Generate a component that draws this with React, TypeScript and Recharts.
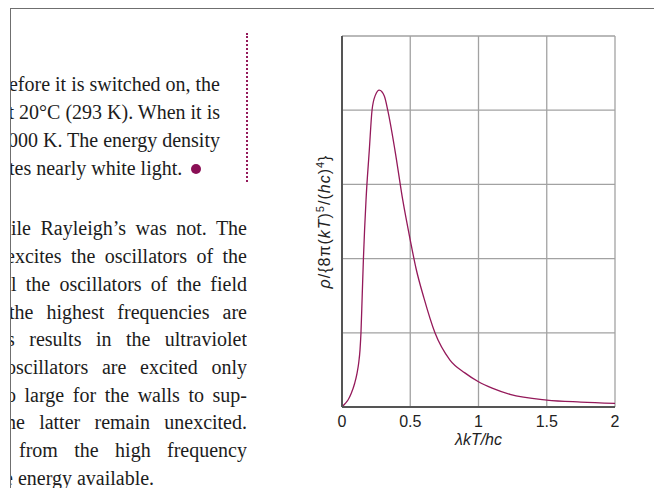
import React from "react"
import { CartesianGrid, Line, LineChart, XAxis, YAxis } from "recharts"

// λkT/hc values
const lambdaKT = [
  0, 0.02, 0.044, 0.068, 0.093, 0.11, 0.122, 0.132, 0.139, 0.148, 0.157, 0.176, 0.2, 0.22, 0.244, 0.273,
  0.31, 0.335, 0.388, 0.445, 0.5, 0.542, 0.6, 0.681, 0.791, 0.9, 1.0, 1.1, 1.231, 1.5, 1.75, 2.0,
]
// energy density, in grid units (no labels on the y axis)
const density = [
  0, 0.04, 0.094, 0.185, 0.32, 0.454, 0.59, 0.77, 1.0, 1.5, 2.0, 2.79, 3.46, 4.0, 4.2, 4.27, 4.19, 4.0,
  3.46, 2.79, 2.25, 1.87, 1.47, 1.0, 0.633, 0.46, 0.341, 0.255, 0.171, 0.094, 0.067, 0.05,
]
const xTicks = [0, 0.5, 1, 1.5, 2]
const yTicks = [0, 1, 2, 3, 4, 5]

// page text beside the figure (cut off at the frame on the left)
const noteLines = ["efore it is switched on, the", "t 20°C (293 K). When it is", "000 K. The energy density"]
const noteLast = "tes nearly white light."
const bodyLines = [
  "ile Rayleigh’s was not. The",
  "excites the oscillators of the",
  "l the oscillators of the field",
  "the highest frequencies are",
  "s results in the ultraviolet",
  "oscillators are excited only",
  "o large for the walls to sup-",
  "he latter remain unexcited.",
  "from the high frequency",
]
const bodyShift = [0, 5, 0, 2, 4, 5, 5, 5, -8]
const bodyLast = "e energy available."

const data = lambdaKT.map((x, i) => ({ x, rho: density[i] }))

const PLUM = "#94195a"
const LINE_H = 27.7

const textStyle: React.CSSProperties = {
  position: "absolute",
  fontFamily: "'Liberation Serif', serif",
  fontSize: 20,
  lineHeight: `${LINE_H}px`,
  color: "#1c1c1c",
  textAlign: "justify",
  textAlignLast: "justify",
}

function YLabel(props: any) {
  const vb = props.viewBox
  const x = vb.x + vb.width - 12
  const y = vb.y + vb.height / 2
  return (
    <text
      x={x}
      y={y}
      transform={`rotate(-90 ${x} ${y})`}
      textAnchor="middle"
      fontFamily="'Liberation Sans', Arial, sans-serif"
      fontSize={16}
      letterSpacing={1}
      fill="#222"
    >
      <tspan fontStyle="italic">ρ</tspan>/{"{"}8π(<tspan fontStyle="italic">kT</tspan>)
      <tspan fontSize={11} dy={-6}>5</tspan>
      <tspan dy={6}>/(</tspan>
      <tspan fontStyle="italic">hc</tspan>)
      <tspan fontSize={11} dy={-6}>4</tspan>
      <tspan dy={6}>{"}"}</tspan>
    </text>
  )
}

function XLabel(props: any) {
  const vb = props.viewBox
  return (
    <text
      x={vb.x + vb.width / 2}
      y={vb.y + 38}
      textAnchor="middle"
      fontFamily="'Liberation Sans', Arial, sans-serif"
      fontSize={16}
      fontStyle="italic"
      fill="#222"
    >
      λkT/hc
    </text>
  )
}

export default function App() {
  return (
    <div style={{ position: "absolute", left: 0, top: 0, width: 654, height: 488, background: "#fff", overflow: "hidden" }}>
      {/* page frame */}
      <div style={{ position: "absolute", left: 10, top: 8, width: 650, height: 490, borderLeft: "1.5px solid #6f6f6f", borderTop: "1.5px solid #6f6f6f" }} />

      <div style={{ position: "absolute", left: 11, top: 0, width: 236, height: 488, overflow: "hidden" }}>
        {noteLines.map((t, i) => (
          <div key={t} style={{ ...textStyle, top: 71.4 + i * LINE_H, right: 27, whiteSpace: "nowrap", textAlign: "right", textAlignLast: "right" }}>
            {t}
          </div>
        ))}
        <div style={{ ...textStyle, top: 71.4 + 3 * LINE_H, left: -2, textAlign: "left", textAlignLast: "left", whiteSpace: "nowrap" }}>
          {noteLast}
        </div>
        {bodyLines.map((t, i) => (
          <div key={t} style={{ ...textStyle, top: 215.4 + i * LINE_H, left: -bodyShift[i], width: 236 + bodyShift[i] }}>
            {t}
          </div>
        ))}
        <div style={{ ...textStyle, top: 215.4 + 9 * LINE_H, left: -7, textAlign: "left", textAlignLast: "left", whiteSpace: "nowrap" }}>
          {bodyLast}
        </div>
      </div>

      {/* end-of-example marker and sidebar rule */}
      <div style={{ position: "absolute", left: 191, top: 163.5, width: 10, height: 10, borderRadius: 5, background: "#8a0f55" }} />
      <div style={{ position: "absolute", left: 245.5, top: 33, height: 149, borderLeft: `2px dotted ${PLUM}` }} />

      <div style={{ position: "absolute", left: 0, top: 0 }}>
        <LineChart width={654} height={488} data={data} margin={{ top: 36, right: 39, bottom: 31, left: 341 }}>
          <CartesianGrid stroke="#a2a2a2" strokeWidth={1.3} />
          <XAxis
            dataKey="x"
            type="number"
            domain={[0, 2]}
            ticks={xTicks}
            tickLine={false}
            tickSize={6}
            tickMargin={3}
            height={50}
            axisLine={{ stroke: "#555", strokeWidth: 2 }}
            tick={{ fill: "#222", fontSize: 16, fontFamily: "'Liberation Sans', Arial, sans-serif" }}
            tickFormatter={(v: number) => String(v)}
            label={<XLabel />}
          />
          <YAxis
            type="number"
            domain={[0, 5]}
            ticks={yTicks}
            width={1}
            tick={() => <g />}
            tickLine={false}
            axisLine={{ stroke: "#555", strokeWidth: 2 }}
            label={<YLabel />}
          />
          <Line
            type="monotone"
            dataKey="rho"
            stroke={PLUM}
            strokeWidth={1.3}
            dot={false}
            isAnimationActive={false}
          />
        </LineChart>
      </div>
    </div>
  )
}
